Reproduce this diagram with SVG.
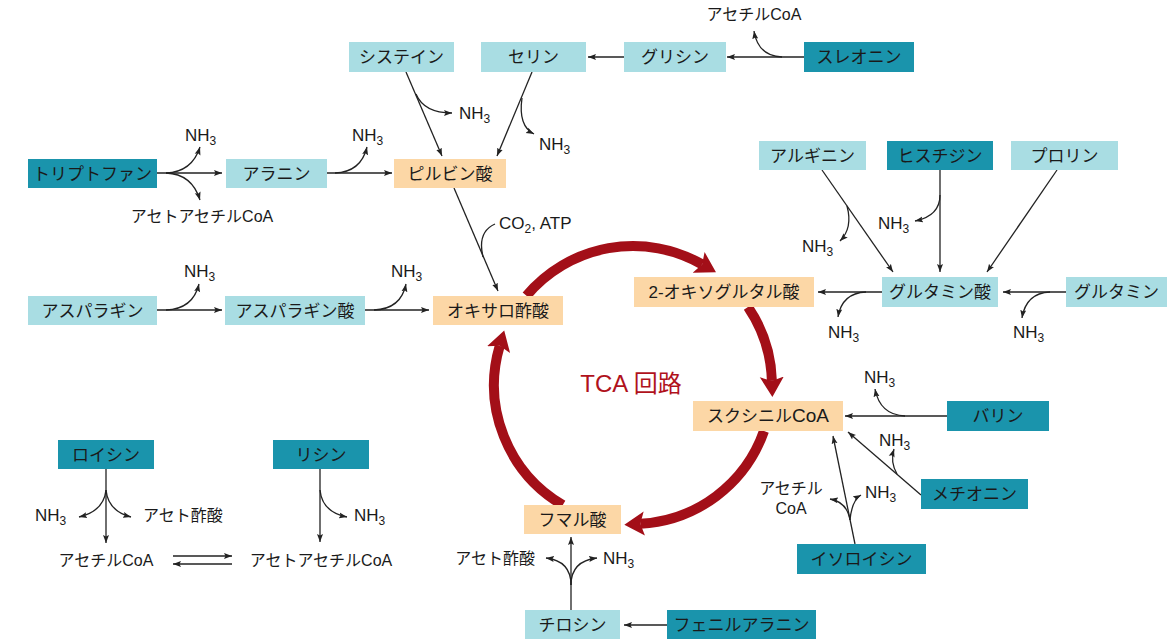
<svg xmlns="http://www.w3.org/2000/svg" width="1168" height="641" viewBox="0 0 1168 641">
<style>
.l{fill:#a9dde3}
.d{fill:#1a94ac}
.o{fill:#fcd7a6}
.bt{font-family:"Liberation Sans","Noto Sans CJK JP",sans-serif;font-size:17px;fill:#1a1a1a;text-anchor:middle}
.t{font-family:"Liberation Sans","Noto Sans CJK JP",sans-serif;font-size:16px;fill:#1a1a1a}
.nh{font-family:"Liberation Sans","Noto Sans CJK JP",sans-serif;font-size:17px;fill:#1a1a1a}
.c{fill:none;stroke:#222;stroke-width:1.3}
.a{marker-end:url(#ah)}
.r{fill:none;stroke:#a30f18;stroke-width:10;marker-end:url(#rh)}
.tca{font-family:"Liberation Sans","Noto Sans CJK JP",sans-serif;font-size:24px;fill:#b0121c}
</style>
<defs>
<marker id="ah" markerWidth="9" markerHeight="7" refX="8" refY="3.5" orient="auto" markerUnits="userSpaceOnUse"><path d="M0,0.5 L8,3.5 L0,6.5 L1.5,3.5 z" fill="#222"/></marker>
<marker id="rh" markerWidth="22" markerHeight="26" refX="4" refY="13" orient="auto" markerUnits="userSpaceOnUse"><path d="M0,1 L20,13 L0,25 L4,13 z" fill="#a30f18"/></marker>
</defs>

<g id="connectors">
<path class="c a" d="M804,57 L727,57"/>
<path class="c a" d="M782,57 Q758,56 754,31"/>
<path class="c a" d="M624,57 L588,57"/>
<path class="c a" d="M406,72 L442,156"/>
<path class="c a" d="M416,94 Q424,113 452,113"/>
<path class="c a" d="M532,72 L497,156"/>
<path class="c a" d="M522,98 Q518,126 534,134"/>
<path class="c a" d="M157,173 L222,173"/>
<path class="c a" d="M166,173 Q192,172 200,147"/>
<path class="c a" d="M166,173 Q192,174 200,200"/>
<path class="c a" d="M327,173 L392,173"/>
<path class="c a" d="M335,173 Q361,172 367,147"/>
<path class="c a" d="M454,188 L498,291"/>
<path class="c" d="M483,257 Q477,232 495,224"/>
<path class="c a" d="M157,310 L222,310"/>
<path class="c a" d="M166,310 Q193,309 199,284"/>
<path class="c a" d="M365,310 L429,310"/>
<path class="c a" d="M374,310 Q401,309 406,284"/>
<path class="c a" d="M882,292 L818,292"/>
<path class="c a" d="M866,292 Q842,293 838,317"/>
<path class="c a" d="M1066,292 L1003,292"/>
<path class="c a" d="M1050,292 Q1026,293 1022,318"/>
<path class="c a" d="M822,170 L893,272"/>
<path class="c a" d="M847,206 Q853,228 840,241"/>
<path class="c a" d="M940,170 L940,272"/>
<path class="c a" d="M940,195 Q940,216 915,221"/>
<path class="c a" d="M1057,170 L987,272"/>
<path class="c a" d="M947,416 L845,416"/>
<path class="c a" d="M905,416 Q880,415 875,389"/>
<path class="c a" d="M921,495 L848,432"/>
<path class="c a" d="M897,474 Q890,462 894,449"/>
<path class="c a" d="M855,544 L833,436"/>
<path class="c a" d="M850,520 Q847,502 830,499"/>
<path class="c a" d="M850,520 Q852,500 861,495"/>
<path class="c a" d="M667,625 L624,625"/>
<path class="c a" d="M571,610 L571,537"/>
<path class="c a" d="M571,585 Q571,561 546,558"/>
<path class="c a" d="M571,585 Q571,561 597,558"/>
<path class="c a" d="M106,469 L106,543"/>
<path class="c a" d="M106,490 Q104,511 79,517"/>
<path class="c a" d="M106,490 Q108,511 131,517"/>
<path class="c a" d="M173,556 L232,556"/>
<path class="c a" d="M232,564 L173,564"/>
<path class="c a" d="M320,469 L320,542"/>
<path class="c a" d="M320,490 Q322,512 347,517"/>
<path class="r" d="M526.5,295.7 A139,139 0 0 1 702.1,264.4"/>
<path class="r" d="M748,307 A139,139 0 0 1 771.9,380.9"/>
<path class="r" d="M764,431 A139,139 0 0 1 640.3,523.8"/>
<path class="r" d="M562.8,505 A139,139 0 0 1 499.7,345.8"/>
</g>

<g id="labels">
<text class="t" x="754" y="20" text-anchor="middle">アセチルCoA</text>
<text class="nh" x="459" y="119">NH<tspan font-size="12" dy="4">3</tspan></text>
<text class="nh" x="539" y="150">NH<tspan font-size="12" dy="4">3</tspan></text>
<text class="nh" x="185" y="141">NH<tspan font-size="12" dy="4">3</tspan></text>
<text class="t" x="202" y="222" text-anchor="middle">アセトアセチルCoA</text>
<text class="nh" x="352" y="141">NH<tspan font-size="12" dy="4">3</tspan></text>
<text class="nh" x="499" y="229">CO<tspan font-size="12" dy="4">2</tspan><tspan dy="-4">, ATP</tspan></text>
<text class="nh" x="184" y="277">NH<tspan font-size="12" dy="4">3</tspan></text>
<text class="nh" x="391" y="277">NH<tspan font-size="12" dy="4">3</tspan></text>
<text class="nh" x="802" y="252">NH<tspan font-size="12" dy="4">3</tspan></text>
<text class="nh" x="878" y="229">NH<tspan font-size="12" dy="4">3</tspan></text>
<text class="nh" x="828" y="338">NH<tspan font-size="12" dy="4">3</tspan></text>
<text class="nh" x="1013" y="338">NH<tspan font-size="12" dy="4">3</tspan></text>
<text class="nh" x="864" y="383">NH<tspan font-size="12" dy="4">3</tspan></text>
<text class="nh" x="879" y="446">NH<tspan font-size="12" dy="4">3</tspan></text>
<text class="nh" x="865" y="498">NH<tspan font-size="12" dy="4">3</tspan></text>
<text class="t" x="791" y="494" text-anchor="middle">アセチル</text>
<text class="t" x="791" y="514" text-anchor="middle">CoA</text>
<text class="t" x="535" y="564" text-anchor="end">アセト酢酸</text>
<text class="nh" x="603" y="564">NH<tspan font-size="12" dy="4">3</tspan></text>
<text class="nh" x="35" y="521">NH<tspan font-size="12" dy="4">3</tspan></text>
<text class="t" x="143" y="521">アセト酢酸</text>
<text class="t" x="106" y="566" text-anchor="middle">アセチルCoA</text>
<text class="t" x="321" y="566" text-anchor="middle">アセトアセチルCoA</text>
<text class="nh" x="354" y="521">NH<tspan font-size="12" dy="4">3</tspan></text>
<text class="tca" x="631" y="392" text-anchor="middle">TCA 回路</text>
</g>

<g id="n-cys"><rect class="l" x="349" y="42" width="105" height="30"/><text class="bt" x="401.5" y="63">システイン</text></g>
<g id="n-ser"><rect class="l" x="481" y="42" width="105" height="30"/><text class="bt" x="533.5" y="63">セリン</text></g>
<g id="n-gly"><rect class="l" x="624" y="42" width="102" height="30"/><text class="bt" x="675" y="63">グリシン</text></g>
<g id="n-thr"><rect class="d" x="804" y="42" width="110" height="30"/><text class="bt" x="859" y="63">スレオニン</text></g>
<g id="n-trp"><rect class="d" x="28" y="159" width="129" height="29"/><text class="bt" x="92.5" y="179.5">トリプトファン</text></g>
<g id="n-ala"><rect class="l" x="226" y="159" width="101" height="29"/><text class="bt" x="276.5" y="179.5">アラニン</text></g>
<g id="n-pyr"><rect class="o" x="394" y="159" width="112" height="29"/><text class="bt" x="450" y="179.5">ピルビン酸</text></g>
<g id="n-arg"><rect class="l" x="759" y="141" width="107" height="29"/><text class="bt" x="812.5" y="161.5">アルギニン</text></g>
<g id="n-his"><rect class="d" x="887" y="141" width="106" height="29"/><text class="bt" x="940" y="161.5">ヒスチジン</text></g>
<g id="n-pro"><rect class="l" x="1011" y="141" width="107" height="29"/><text class="bt" x="1064.5" y="161.5">プロリン</text></g>
<g id="n-asn"><rect class="l" x="28" y="296" width="129" height="29"/><text class="bt" x="92.5" y="316.5">アスパラギン</text></g>
<g id="n-asp"><rect class="l" x="225" y="296" width="140" height="29"/><text class="bt" x="295" y="316.5">アスパラギン酸</text></g>
<g id="n-oaa"><rect class="o" x="433" y="296" width="130" height="29"/><text class="bt" x="498" y="316.5">オキサロ酢酸</text></g>
<g id="n-akg"><rect class="o" x="634" y="277" width="180" height="30"/><text class="bt" x="724" y="298">2-オキソグルタル酸</text></g>
<g id="n-glu"><rect class="l" x="882" y="277" width="116" height="30"/><text class="bt" x="940" y="298">グルタミン酸</text></g>
<g id="n-gln"><rect class="l" x="1066" y="277" width="101" height="30"/><text class="bt" x="1116.5" y="298">グルタミン</text></g>
<g id="n-suc"><rect class="o" x="693" y="401" width="150" height="30"/><text class="bt" x="768" y="422">スクシニル<tspan font-size="19">CoA</tspan></text></g>
<g id="n-val"><rect class="d" x="947" y="401" width="102" height="30"/><text class="bt" x="998" y="422">バリン</text></g>
<g id="n-met"><rect class="d" x="921" y="479" width="107" height="30"/><text class="bt" x="974.5" y="500">メチオニン</text></g>
<g id="n-ile"><rect class="d" x="797" y="544" width="129" height="30"/><text class="bt" x="861.5" y="565">イソロイシン</text></g>
<g id="n-fum"><rect class="o" x="524" y="505" width="97" height="29"/><text class="bt" x="572.5" y="525.5">フマル酸</text></g>
<g id="n-tyr"><rect class="l" x="525" y="610" width="95" height="29"/><text class="bt" x="572.5" y="630.5">チロシン</text></g>
<g id="n-phe"><rect class="d" x="667" y="610" width="149" height="29"/><text class="bt" x="741.5" y="630.5">フェニルアラニン</text></g>
<g id="n-leu"><rect class="d" x="58" y="440" width="96" height="29"/><text class="bt" x="106" y="460.5">ロイシン</text></g>
<g id="n-lys"><rect class="d" x="273" y="440" width="96" height="29"/><text class="bt" x="321" y="460.5">リシン</text></g>
</svg>
